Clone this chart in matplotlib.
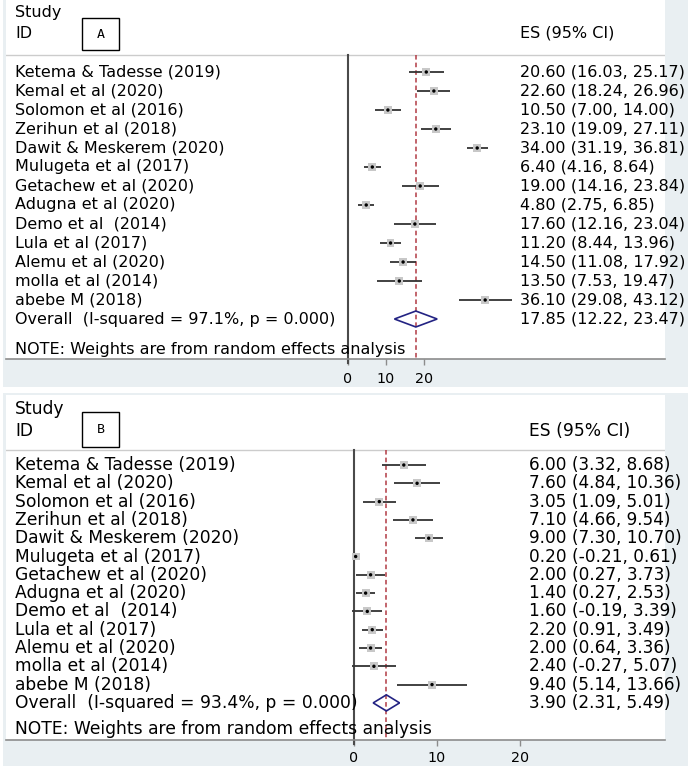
import matplotlib.pyplot as plt
from matplotlib.patches import Rectangle, Polygon
import matplotlib.transforms as mtransforms

W, H = 688, 768

studies = ["Ketema & Tadesse (2019)", "Kemal et al (2020)", "Solomon et al (2016)",
           "Zerihun et al (2018)", "Dawit & Meskerem (2020)", "Mulugeta et al (2017)",
           "Getachew et al (2020)", "Adugna et al (2020)", "Demo et al  (2014)",
           "Lula et al (2017)", "Alemu et al (2020)", "molla et al (2014)", "abebe M (2018)"]

# panel A
es_a = [20.60, 22.60, 10.50, 23.10, 34.00, 6.40, 19.00, 4.80, 17.60, 11.20, 14.50, 13.50, 36.10]
lo_a = [16.03, 18.24, 7.00, 19.09, 31.19, 4.16, 14.16, 2.75, 12.16, 8.44, 11.08, 7.53, 29.08]
hi_a = [25.17, 26.96, 14.00, 27.11, 36.81, 8.64, 23.84, 6.85, 23.04, 13.96, 17.92, 19.47, 43.12]
overall_a = [17.85, 12.22, 23.47]
isq_a = "97.1"

# panel B
es_b = [6.00, 7.60, 3.05, 7.10, 9.00, 0.20, 2.00, 1.40, 1.60, 2.20, 2.00, 2.40, 9.40]
lo_b = [3.32, 4.84, 1.09, 4.66, 7.30, -0.21, 0.27, 0.27, -0.19, 0.91, 0.64, -0.27, 5.14]
hi_b = [8.68, 10.36, 5.01, 9.54, 10.70, 0.61, 3.73, 2.53, 3.39, 3.49, 3.36, 5.07, 13.66]
overall_b = [3.90, 2.31, 5.49]
isq_b = "93.4"

ticks = [0, 10, 20]

bg = '#e9eff2'
plt.rcParams['font.family'] = ['DejaVu Sans']

fig = plt.figure(figsize=(W / 100, H / 100), dpi=100)
fig.patch.set_facecolor('white')


def add_rect(x0, y0, x1, y1, **kw):
    fig.add_artist(Rectangle((x0 / W, 1 - y1 / H), (x1 - x0) / W, (y1 - y0) / H,
                             transform=fig.transFigure, **kw))


def panel(es, lo, hi, ov, isq, letter, lay):
    top, axis_y, bottom = lay['top'], lay['axis'], lay['bottom']
    row0, step = lay['row0'], lay['step']
    zero_x, ppu = lay['zero'], lay['ppu']

    # outer grey-blue frame, white plot region
    add_rect(3, top - 2, 688, bottom, facecolor=bg, edgecolor='none', zorder=0)
    add_rect(6, top, 665, axis_y, facecolor='white', edgecolor='none', zorder=0)

    ax = fig.add_axes([6 / W, 1 - axis_y / H, 659 / W, (axis_y - top) / H])
    ax.set_facecolor('none')
    r = lambda px: (px - row0) / step
    ax.set_xlim((6 - zero_x) / ppu, (665 - zero_x) / ppu)
    ax.set_ylim(r(axis_y), r(top))
    for s in ['top', 'left', 'right']:
        ax.spines[s].set_visible(False)
    ax.spines['bottom'].set_color('#8c8c8c')
    ax.spines['bottom'].set_linewidth(1.2)
    ax.set_yticks([])
    ax.set_xticks(ticks)
    ax.tick_params(axis='x', direction='out', length=4, width=1, color='#8c8c8c',
                   labelsize=10.3, pad=lay['pad'])

    n = len(es)
    ys = list(range(n))
    hdr = r(lay['header'])
    ax.axhline(hdr, color='#cccccc', lw=1)
    ax.plot([0, 0], [hdr, r(axis_y) + 0.2], color='#4a4a4a', lw=1.5, clip_on=False)
    ax.plot([ov[0], ov[0]], [hdr, r(axis_y)], color='#b23a44', lw=1.1, ls=(0, (3, 2)))

    ax.hlines(ys, lo, hi, color='#333333', lw=1.3, zorder=2)
    ax.scatter(es, ys, marker='s', s=32, color='#c8c8c8', edgecolors='none', zorder=3)
    ax.scatter(es, ys, marker='o', s=6, color='black', edgecolors='none', zorder=4)

    hh = lay['dia']
    ax.add_patch(Polygon([(ov[1], n), (ov[0], n - hh), (ov[2], n), (ov[0], n + hh)],
                         closed=True, fill=False, edgecolor='#232383', lw=1.2, zorder=3))

    tr = mtransforms.blended_transform_factory(ax.transAxes, ax.transData)
    xl = (15 - 6) / 659
    xr = (lay['esx'] - 6) / 659
    fs, fse = lay['fs'], lay['fse']
    ax.text(xl, r(lay['study']), "Study", transform=tr, va='center', fontsize=fs)
    ax.text(xl, r(lay['id']), "ID", transform=tr, va='center', fontsize=fs)
    ax.text(xr, r(lay['id']), "ES (95% CI)", transform=tr, va='center', fontsize=fs)
    for i in ys:
        ax.text(xl, i, studies[i], transform=tr, va='center', fontsize=fs)
        ax.text(xr, i, f"{es[i]:.2f} ({lo[i]:.2f}, {hi[i]:.2f})", transform=tr,
                va='center', fontsize=fse)
    ax.text(xl, n, f"Overall  (I-squared = {isq}%, p = 0.000)", transform=tr,
            va='center', fontsize=fs)
    ax.text(xr, n, f"{ov[0]:.2f} ({ov[1]:.2f}, {ov[2]:.2f})", transform=tr,
            va='center', fontsize=fse)
    ax.text(xl, r(lay['note']), "NOTE: Weights are from random effects analysis",
            transform=tr, va='center', fontsize=fs)

    # panel letter box
    bx = lay['box']
    add_rect(bx[0], bx[1], bx[2], bx[3], fill=False, edgecolor='black', lw=1, zorder=5)
    fig.text((bx[0] + bx[2]) / 2 / W, 1 - (bx[1] + bx[3]) / 2 / H, letter,
             ha='center', va='center', fontsize=9.5, family='DejaVu Sans Mono')
    return ax


lay_a = dict(top=0, axis=359, bottom=387, row0=72, step=19.0, zero=348, ppu=3.8,
             header=55, study=13, id=33, note=349, esx=520, box=(82, 18, 119, 50),
             fs=11.5, fse=11.5, pad=5, dia=0.42)
lay_b = dict(top=395, axis=740, bottom=766, row0=465, step=18.3, zero=354, ppu=8.3,
             header=450, study=409, id=431, note=729, esx=529, box=(82, 412, 119, 447),
             fs=12.3, fse=12.2, pad=4, dia=0.44)

panel(es_a, lo_a, hi_a, overall_a, isq_a, "A", lay_a)
panel(es_b, lo_b, hi_b, overall_b, isq_b, "B", lay_b)

fig.savefig("out.png", dpi=100, facecolor='white')
